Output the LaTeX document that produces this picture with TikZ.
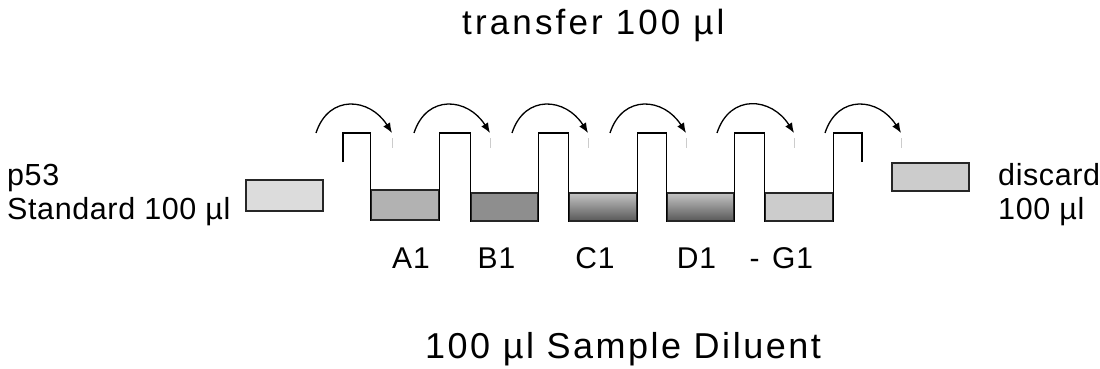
\documentclass[tikz,border=0pt]{standalone}
\usepackage{fontspec}
\setmainfont{Liberation Sans}
\usetikzlibrary{arrows.meta, positioning}
\definecolor{stdfill}{HTML}{DCDCDC}
\definecolor{afill}{HTML}{B2B2B2}
\definecolor{bfill}{HTML}{8E8E8E}
\definecolor{gfill}{HTML}{CCCCCC}
\definecolor{shadetop}{HTML}{C4C4C4}
\definecolor{shadebot}{HTML}{585858}
\tikzstyle{tube}=[rectangle, draw=black!85, line width=1.6pt, inner sep=0pt, minimum width=68pt, minimum height=28pt]
\tikzstyle{wave}=[line width=1.2pt, line join=miter]
\tikzstyle{transfer}=[line width=1.3pt, -{Latex[length=10pt,width=8pt]}]
\tikzstyle{tick}=[line width=0.8pt, draw=black!20]
\tikzstyle{wellname}=[anchor=base, inner sep=0pt, font=\fontsize{30}{34}\selectfont\addfontfeatures{LetterSpace=3}]
\tikzstyle{side}=[anchor=base west, inner sep=0pt, font=\fontsize{30.5}{34}\selectfont\addfontfeatures{LetterSpace=2}]

\begin{document}
\begin{tikzpicture}[x=1pt, y=-1pt]
        \useasboundingbox (0,0) rectangle (1100,369);

        % titles
        \node[anchor=base west, inner sep=0pt, font=\fontsize{35}{40}\selectfont\addfontfeatures{LetterSpace=9}] (title) at (462,35) {transfer 100 µl};
        \node[anchor=base west, inner sep=0pt, font=\fontsize{36}{40}\selectfont\addfontfeatures{LetterSpace=7}] (diluent) at (425,358) {100 µl Sample Diluent};

        % standard and discard
        \node[tube, fill=stdfill, minimum width=77pt, minimum height=31pt, line width=1.3pt] (std) at (284.5,195.5) {};
        \node[tube, fill=gfill, minimum width=77pt, minimum height=28pt, line width=1.3pt] (discard) at (930.5,177) {};
        \node[side] (p53) at (7,185) {p53};
        \node[side] (stdtext) at (7,219) {Standard 100 µl};
        \node[side] (distext) at (998,185) {discard};
        \node[side] (distext2) at (998,219) {100 µl};

        % wells
        \node[tube, fill=afill, minimum height=30pt] (A1) at (405,205) {};
        \node[tube, fill=bfill, minimum width=67pt] (B1) at (504.5,207) {};
        \node[tube, top color=shadetop, bottom color=shadebot, minimum width=68pt] (C1) at (603,207) {};
        \node[tube, top color=shadetop, bottom color=shadebot, minimum width=67pt] (D1) at (700.5,207) {};
        \node[tube, fill=gfill, minimum width=68pt] (G1) at (799,207) {};

        \node[wellname] (nA) at (411,268) {A1};
        \node[wellname] (nB) at (496.5,268) {B1};
        \node[wellname] (nC) at (595,268) {C1};
        \node[wellname] (nD) at (696.5,268) {D1};
        \node[wellname] (ndash) at (754.5,268) {-};
        \node[wellname] (nG) at (792.5,268) {G1};

        % square wave of the plate
        \coordinate (top) at (0,133);
        \coordinate (wstart) at (343,162);
        \coordinate (wend) at (862,162);
        \draw[wave] (wstart) |- (top -| A1.south west) -- (A1.south west);
        \draw[wave] (A1.south east) |- (top -| B1.south west) -- (B1.south west);
        \draw[wave] (B1.south east) |- (top -| C1.south west) -- (C1.south west);
        \draw[wave] (C1.south east) |- (top -| D1.south west) -- (D1.south west);
        \draw[wave] (D1.south east) |- (top -| G1.south west) -- (G1.south west);
        \draw[wave] (G1.south east) |- (top -| wend) -- (wend);

        % transfer arrows
        \foreach \s/\t [count=\i] in {316/392, 414/490, 512/588, 610/686, 717/794, 825/901}{
          \coordinate (s\i) at (\s,133);
          \coordinate (t\i) at (\t,133);
          \coordinate (u\i) at (\t,138);
          \coordinate (v\i) at (\t,148);
          \draw[transfer] (s\i) to[out=72, in=122, looseness=1.4] (t\i);
          \draw[tick] (u\i) -- (v\i);
        }
      \end{tikzpicture}
\end{document}
